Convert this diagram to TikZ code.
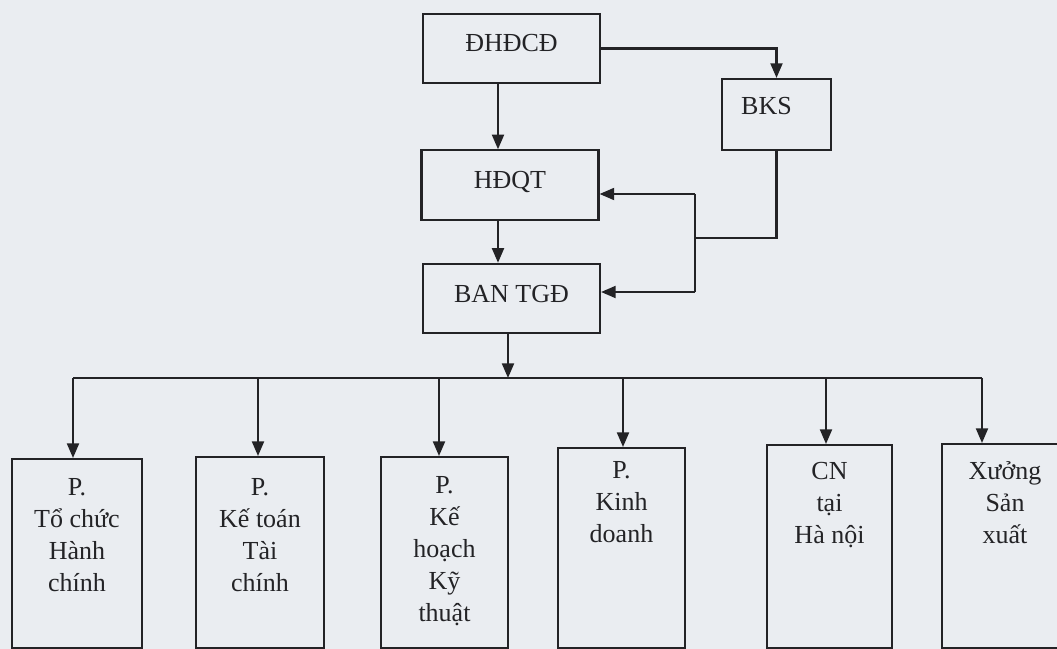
\documentclass[tikz,border=0pt]{standalone}
\usepackage{fontspec}
\setmainfont{Liberation Serif}
\usetikzlibrary{arrows.meta,positioning}
\definecolor{paper}{RGB}{234,237,241}
\definecolor{ink}{RGB}{35,35,38}
\tikzset{
	topbox/.style={draw,minimum width=132.75pt,minimum height=52pt,text height=13.5pt,text depth=8.25pt,inner sep=0pt},
	dept/.style={draw,anchor=north,inner sep=0pt},
	depttext/.style={align=center,inner sep=0pt}
}
\begin{document}
\begin{tikzpicture}[x=0.75pt,y=-0.75pt,line width=1.6pt,color=ink,>={Triangle[length=11pt,width=9pt]},font=\fontsize{19.5}{24}\selectfont]
		\useasboundingbox (0,0) rectangle (1057,649);
		\clip (0,0) rectangle (1057,649);
		\fill[paper] (0,0) rectangle (1057,649);
		\node[topbox] (dh) at (511.5,48.5) {ĐHĐCĐ};
		\node[topbox,minimum width=81.75pt,minimum height=53.25pt,text depth=12.75pt] (bks) at (776.5,114.5) {BKS\hspace*{15pt}};
		\node[topbox] (hd) at (510,185) {HĐQT};
		\node[topbox] (ban) at (511.5,298.5) {BAN TGĐ};
		\foreach \n/\cx/\ty/\w/\h in {tc/77/458/97.5/141.75,kt/260/456/96/143.25,kh/444.5/456/95.25/143.25,kd/621.5/447/95.25/150,cn/829.5/444/93.75/152.25,xs/1005/443/94.5/153}
			\node[dept,minimum width=\w pt,minimum height=\h pt] (\n) at (\cx,\ty) {};
		\node[depttext,below=14.25pt of tc.north] (tc-t) {P.\\Tổ chức\\Hành\\chính};
		\node[depttext,below=15.75pt of kt.north] (kt-t) {P.\\Kế toán\\Tài\\chính};
		\node[depttext,below=14.25pt of kh.north] (kh-t) {P.\\Kế\\hoạch\\Kỹ\\thuật};
		\node[depttext,below=9.75pt of kd.north] (kd-t) {P.\\Kinh\\doanh};
		\node[depttext,below=12.75pt of cn.north] (cn-t) {CN\\tại\\Hà nội};
		\node[depttext,below=13.5pt of xs.north] (xs-t) {Xưởng\\Sản\\xuất};
		\coordinate (sp) at (498,0);
		\draw[->] (dh.south -| sp)--(hd.north -| sp);
		\draw[->] (hd.south -| sp)--(ban.north -| sp);
		\draw[->] (dh.east) -| (bks.north);
		\coordinate (jn) at (695,238);
		\coordinate (up) at (695,194);
		\coordinate (dn) at (695,292);
		\draw (bks.south) |- (jn) (up)--(dn);
		\draw[->] (up)--(up -| hd.east);
		\draw[->] (dn)--(dn -| ban.east);
		\coordinate (bt) at (508,378);
		\draw[->] (ban.south -| bt)--(bt);
		\foreach \n/\ax in {tc/73,kt/258,kh/439,kd/623,cn/826,xs/982}{
			\coordinate (a\n) at (\ax,378);
			\draw[->] (a\n)--(a\n |- \n.north);
		}
		\draw (atc)--(axs);
\end{tikzpicture}
\end{document}
